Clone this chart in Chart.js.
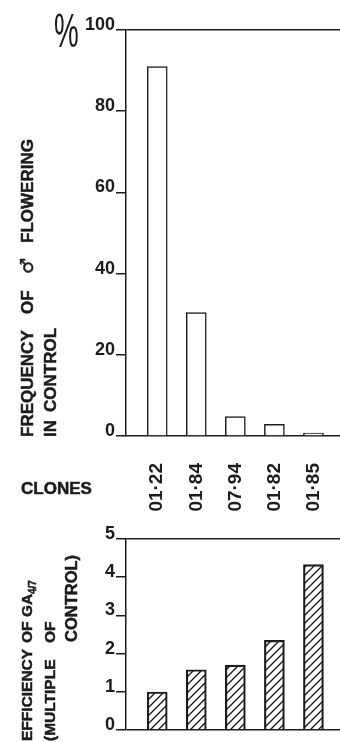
<!DOCTYPE html>
<html><head><meta charset="utf-8">
<script src="https://cdn.jsdelivr.net/npm/chart.js@4"></script>
<style>
html,body{margin:0;padding:0;background:#fff;width:340px;height:742px;overflow:hidden}
#c1{position:absolute;left:0;top:0}
#c2{position:absolute;left:0;top:520px}
</style></head><body>
<canvas id="c1" width="340" height="520"></canvas>
<canvas id="c2" width="340" height="222"></canvas>
<script>
const clones = ['01·22', '01·84', '07·94', '01·82', '01·85'];
const flowering = [91, 30.4, 4.8, 2.9, 0.7];
const efficiency = [1.0, 1.58, 1.7, 2.35, 4.33];
const flowTicks = [0, 20, 40, 60, 80, 100];
const effTicks = [0, 1, 2, 3, 4, 5];

const INK = '#1c1c1c';
const FONT = "'Liberation Sans', Arial, Helvetica, sans-serif";

function hatch() {
  const p = document.createElement('canvas');
  p.width = 8; p.height = 8;
  const c = p.getContext('2d');
  c.strokeStyle = INK; c.lineWidth = 1.4;
  c.beginPath();
  c.moveTo(-1, 9); c.lineTo(9, -1);
  c.moveTo(-1, 1); c.lineTo(1, -1);
  c.moveTo(7, 9); c.lineTo(9, 7);
  c.stroke();
  const t = document.createElement('canvas').getContext('2d');
  return t.createPattern(p, 'repeat');
}

function drawRotPieces(ctx, x, y, pieces, size) {
  ctx.save();
  ctx.translate(x, y);
  ctx.rotate(-Math.PI / 2);
  ctx.fillStyle = INK;
  ctx.strokeStyle = INK;
  ctx.lineWidth = 0.5;
  ctx.textBaseline = 'middle';
  ctx.textAlign = 'left';
  for (const p of pieces) {
    ctx.font = 'bold ' + (p.size || size) + 'px ' + (p.family || FONT);
    ctx.fillText(p.t, p.o, p.dy || 0);
    ctx.strokeText(p.t, p.o, p.dy || 0);
  }
  ctx.restore();
}

function yScale(ticks, max, isTop) {
  return {
    type: 'linear', min: 0, max: max,
    afterBuildTicks: s => { s.ticks = ticks.map(v => ({ value: v })); },
    afterFit: s => { s.width = 126; },
    ticks: {
      color: INK, padding: 1, labelOffset: -5,
      font: { family: FONT, weight: 'bold', size: 18 },
      callback: v => String(v)
    },
    grid: {
      color: c => (c.tick && (c.tick.value === max || (!isTop && c.tick.value === 0))) ? INK : 'rgba(0,0,0,0)',
      lineWidth: 1.5,
      tickColor: INK, tickLength: 10, drawTicks: true
    },
    border: { display: true, color: INK, width: 1.5 }
  };
}

const topPlugin = {
  id: 'topText',
  afterDraw(chart) {
    const ctx = chart.ctx;
    ctx.save();
    ctx.fillStyle = INK;
    ctx.font = '48px ' + FONT;
    ctx.translate(54, 47);
    ctx.scale(0.58, 1);
    ctx.textBaseline = 'alphabetic';
    ctx.fillText('%', 0, 0);
    ctx.restore();
    ctx.save();
    ctx.fillStyle = INK;
    ctx.strokeStyle = INK;
    ctx.lineWidth = 0.5;
    ctx.font = 'bold 17px ' + FONT;
    ctx.textBaseline = 'alphabetic';
    ctx.fillText('CLONES', 21, 494);
    ctx.strokeText('CLONES', 21, 494);
    ctx.restore();
    drawRotPieces(ctx, 28, 437, [
      { t: 'FREQUENCY', o: 0 },
      { t: 'OF', o: 123 },
      { t: '♂', o: 163, family: "'DejaVu Sans', sans-serif", size: 18 },
      { t: 'FLOWERING', o: 194 }
    ], 17);
    drawRotPieces(ctx, 51, 437, [
      { t: 'IN', o: 0 },
      { t: 'CONTROL', o: 25 }
    ], 17);
  }
};

const botPlugin = {
  id: 'botText',
  afterDraw(chart) {
    const ctx = chart.ctx;
    drawRotPieces(ctx, 28, 741 - 520, [
      { t: 'EFFICIENCY', o: 0 },
      { t: 'OF', o: 98 },
      { t: 'GA', o: 124 },
      { t: '4/7', o: 147, size: 10, dy: 5 }
    ], 15.5);
    drawRotPieces(ctx, 51, 741 - 520, [
      { t: '(MULTIPLE', o: 0 },
      { t: 'OF', o: 98 }
    ], 15.5);
    drawRotPieces(ctx, 72, 642 - 520, [
      { t: 'CONTROL)', o: 0 }
    ], 16.5);
  }
};

const xMin = -0.8, xMax = 4.68;

new Chart(document.getElementById('c1'), {
  type: 'bar',
  data: {
    datasets: [{
      data: flowering.map((v, i) => ({ x: i, y: v })),
      backgroundColor: '#ffffff',
      borderColor: INK, borderWidth: 1.5,
      barThickness: 20
    }]
  },
  options: {
    responsive: false, devicePixelRatio: 1, animation: false,
    layout: { padding: { top: 30, right: 0, left: 0, bottom: 0 } },
    plugins: { legend: { display: false }, tooltip: { enabled: false } },
    scales: {
      x: {
        type: 'linear', min: xMin, max: xMax, offset: false,
        afterBuildTicks: s => { s.ticks = clones.map((_, i) => ({ value: i })); },
        afterFit: s => { s.height = 84; s.paddingLeft = 0; s.paddingRight = 0; },
        ticks: {
          color: INK, minRotation: 90, maxRotation: 90, padding: 27,
          font: { family: FONT, weight: 'bold', size: 19 },
          callback: v => clones[v]
        },
        grid: { display: false, drawTicks: false },
        border: { display: true, color: INK, width: 1.5 }
      },
      y: yScale(flowTicks, 100, true)
    }
  },
  plugins: [topPlugin]
});

new Chart(document.getElementById('c2'), {
  type: 'bar',
  data: {
    datasets: [{
      data: efficiency.map((v, i) => ({ x: i, y: v })),
      backgroundColor: hatch(),
      borderColor: INK, borderWidth: 1.5,
      barThickness: 20
    }]
  },
  options: {
    responsive: false, devicePixelRatio: 1, animation: false,
    layout: { padding: { top: 19, right: 0, left: 0, bottom: 3 } },
    plugins: { legend: { display: false }, tooltip: { enabled: false } },
    scales: {
      x: { type: 'linear', min: xMin, max: xMax, offset: false, display: false },
      y: yScale(effTicks, 5, false)
    }
  },
  plugins: [botPlugin]
});
</script>
</body></html>
